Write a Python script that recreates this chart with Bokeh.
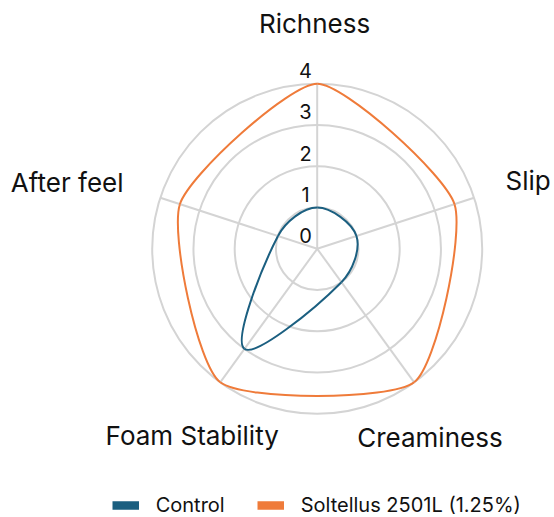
import numpy as np
from bokeh.plotting import figure
from bokeh.models import ColumnDataSource, Legend, LegendItem, Range1d
from bokeh.embed import file_html
from bokeh.resources import INLINE
from bokeh.core.properties import value

# ---------------- data ----------------
categories = ["Richness", "Slip", "Creaminess", "Foam Stability", "After feel"]
control = [1.0, 1.0, 1.0, 3.0, 1.0]
soltellus = [4.0, 3.5, 4.0, 4.0, 3.5]
series_names = ["Control", "Soltellus 2501L (1.25%)"]
tick_values = [0, 1, 2, 3, 4]
tick_labels = ["0", "1", "2", "3", "4"]

# ---------------- style / layout ----------------
R_MAX = 4
TENSIONS = [0.35, 0.2]   # control, soltellus
UNIT = 41.25          # pixels per data unit
W, H = 554, 517
CX, CY = 316.7, 248.3  # centre in frame pixels (from left / from top)
FONT = "Inter"
GRID = "#d4d4d4"
TXT = "#111111"
COLORS = ["#1b5f80", "#ef7b3a"]

n = len(categories)
theta = np.pi / 2 - 2 * np.pi * np.arange(n) / n

p = figure(width=W, height=H, output_backend="svg", toolbar_location=None,
           x_range=Range1d(-CX / UNIT, (W - CX) / UNIT),
           y_range=Range1d(-(H - CY) / UNIT, CY / UNIT),
           min_border=0, outline_line_color=None)
p.axis.visible = False
p.grid.visible = False
p.background_fill_color = "white"

# rings
p.circle(x=[0] * (len(tick_values) - 1), y=[0] * (len(tick_values) - 1),
         radius=tick_values[1:], fill_color=None, line_color=GRID, line_width=2)
# spokes
p.segment(x0=[0] * n, y0=[0] * n, x1=list(R_MAX * np.cos(theta)), y1=list(R_MAX * np.sin(theta)),
          line_color=GRID, line_width=2)


def spline_source(vals, tension):
    r = np.asarray(vals, dtype=float)
    px = r * np.cos(theta)
    py = r * np.sin(theta)
    cp_prev = np.zeros((n, 2))
    cp_next = np.zeros((n, 2))
    for i in range(n):
        a = np.array([px[i - 1], py[i - 1]])
        b = np.array([px[i], py[i]])
        c = np.array([px[(i + 1) % n], py[(i + 1) % n]])
        d01 = np.hypot(*(b - a))
        d12 = np.hypot(*(c - b))
        s01 = d01 / (d01 + d12)
        s12 = d12 / (d01 + d12)
        cp_prev[i] = b - tension * s01 * (c - a)
        cp_next[i] = b + tension * s12 * (c - a)
    j = [(i + 1) % n for i in range(n)]
    return ColumnDataSource(dict(
        x0=px, y0=py, x1=px[j], y1=py[j],
        cx0=cp_next[:, 0], cy0=cp_next[:, 1],
        cx1=cp_prev[j, 0], cy1=cp_prev[j, 1]))


for vals, col, t in [(soltellus, COLORS[1], TENSIONS[1]), (control, COLORS[0], TENSIONS[0])]:
    p.bezier(x0="x0", y0="y0", x1="x1", y1="y1", cx0="cx0", cy0="cy0", cx1="cx1", cy1="cy1",
             source=spline_source(vals, t), line_color=col, line_width=2)

# radial tick labels
p.text(x=[-0.284] * len(tick_values), y=[v + 0.32 for v in tick_values], text=tick_labels,
       text_align="center", text_baseline="alphabetic", text_font=value(FONT),
       text_font_size="20px", text_color=TXT)

# category labels
label_x = [-0.065, 4.565, 0.970, -0.931, -4.696]
label_y = [5.462, 1.655, -4.575, -4.526, 1.614]
label_align = ["center", "left", "left", "right", "right"]
for al in ["center", "left", "right"]:
    idx = [i for i in range(n) if label_align[i] == al]
    p.text(x=[label_x[i] for i in idx], y=[label_y[i] for i in idx],
           text=[categories[i] for i in idx], text_align=al, text_baseline="alphabetic",
           text_font=value(FONT), text_font_size="26px", text_color=TXT)

# legend (swatch renderers are zero-length so they draw nothing on the chart)
dummies = [p.line(x=[0, 0], y=[0, 0], line_color=c, line_width=8.5, line_cap="butt") for c in COLORS]
legend = Legend(items=[LegendItem(label=series_names[i], renderers=[dummies[i]]) for i in range(2)],
                orientation="horizontal", location=(111.7, 0),
                glyph_width=27, glyph_height=24, label_height=24,
                label_standoff=17, spacing=32, padding=0, margin=0,
                border_line_color=None, background_fill_alpha=0,
                label_text_font=FONT, label_text_font_size="20px", label_text_color=TXT)
p.add_layout(legend)

open("out.html", "w").write(file_html(p, INLINE))
